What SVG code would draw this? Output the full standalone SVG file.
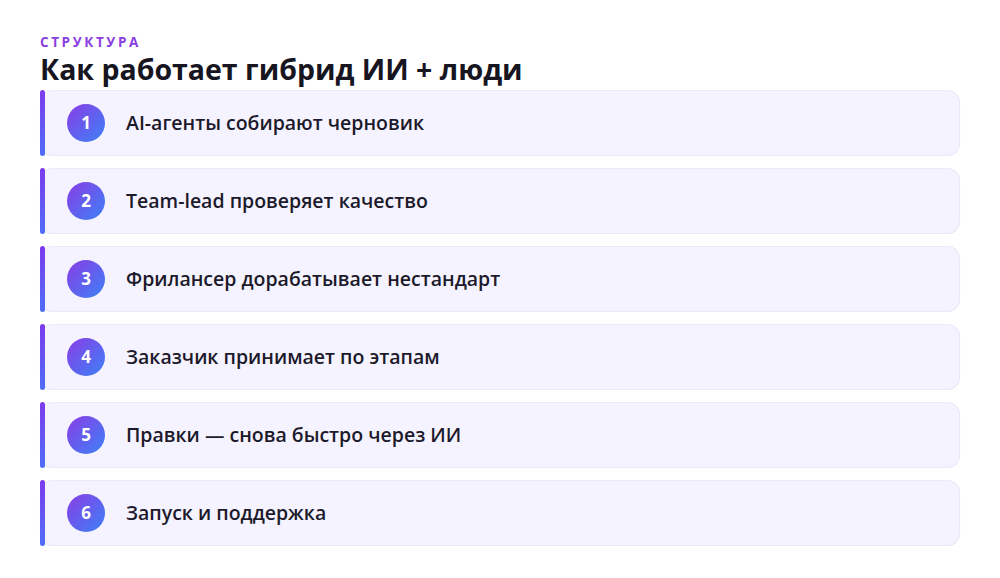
<svg xmlns="http://www.w3.org/2000/svg" width="1000" height="578" viewBox="0 0 1000 578">
<defs>
<linearGradient id="bar" x1="0" y1="0" x2="0" y2="1"><stop offset="0" stop-color="#7c3aed"/><stop offset="1" stop-color="#4f6ef7"/></linearGradient>
<linearGradient id="circ" x1="0" y1="0" x2="1" y2="1"><stop offset="0" stop-color="#8b3ce6"/><stop offset="1" stop-color="#3b82f6"/></linearGradient>
<style>
.card{fill:#f5f3ff;stroke:#ebe8f7;stroke-width:1.2}
.bar{fill:url(#bar)}
.circ{fill:url(#circ)}
.num{font-family:"Open Sans","Noto Sans",sans-serif;font-weight:700;font-size:17px;fill:#fff;text-anchor:middle}
.lbl{font-family:"Open Sans","Noto Sans",sans-serif;font-weight:600;font-size:19.5px;fill:#1c1a2b}
.kick{font-family:"Open Sans","Noto Sans",sans-serif;font-weight:700;font-size:13.5px;fill:#8b3fe0;letter-spacing:2.6px}
.title{font-family:"Open Sans","Noto Sans",sans-serif;font-weight:700;font-size:28.5px;fill:#17151f}
</style>
</defs>
<rect width="1000" height="578" fill="#ffffff"/>
<text class="kick" x="40" y="47">СТРУКТУРА</text>
<text class="title" x="40" y="80">Как работает гибрид ИИ + люди</text>
<g id="step1"><rect class="card" x="40.5" y="90.5" width="919" height="65" rx="12"/><rect class="bar" x="40" y="90" width="5" height="66" rx="2.5"/><circle class="circ" cx="86" cy="123" r="19"/><text class="num" x="86" y="129">1</text><text class="lbl" x="126" y="130">AI-агенты собирают черновик</text></g>
<g id="step2"><rect class="card" x="40.5" y="168.5" width="919" height="65" rx="12"/><rect class="bar" x="40" y="168" width="5" height="66" rx="2.5"/><circle class="circ" cx="86" cy="201" r="19"/><text class="num" x="86" y="207">2</text><text class="lbl" x="126" y="208">Team-lead проверяет качество</text></g>
<g id="step3"><rect class="card" x="40.5" y="246.5" width="919" height="65" rx="12"/><rect class="bar" x="40" y="246" width="5" height="66" rx="2.5"/><circle class="circ" cx="86" cy="279" r="19"/><text class="num" x="86" y="285">3</text><text class="lbl" x="126" y="286">Фрилансер дорабатывает нестандарт</text></g>
<g id="step4"><rect class="card" x="40.5" y="324.5" width="919" height="65" rx="12"/><rect class="bar" x="40" y="324" width="5" height="66" rx="2.5"/><circle class="circ" cx="86" cy="357" r="19"/><text class="num" x="86" y="363">4</text><text class="lbl" x="126" y="364">Заказчик принимает по этапам</text></g>
<g id="step5"><rect class="card" x="40.5" y="402.5" width="919" height="65" rx="12"/><rect class="bar" x="40" y="402" width="5" height="66" rx="2.5"/><circle class="circ" cx="86" cy="435" r="19"/><text class="num" x="86" y="441">5</text><text class="lbl" x="126" y="442">Правки — снова быстро через ИИ</text></g>
<g id="step6"><rect class="card" x="40.5" y="480.5" width="919" height="65" rx="12"/><rect class="bar" x="40" y="480" width="5" height="66" rx="2.5"/><circle class="circ" cx="86" cy="513" r="19"/><text class="num" x="86" y="519">6</text><text class="lbl" x="126" y="520">Запуск и поддержка</text></g>
<g id="connectors"/>
</svg>
